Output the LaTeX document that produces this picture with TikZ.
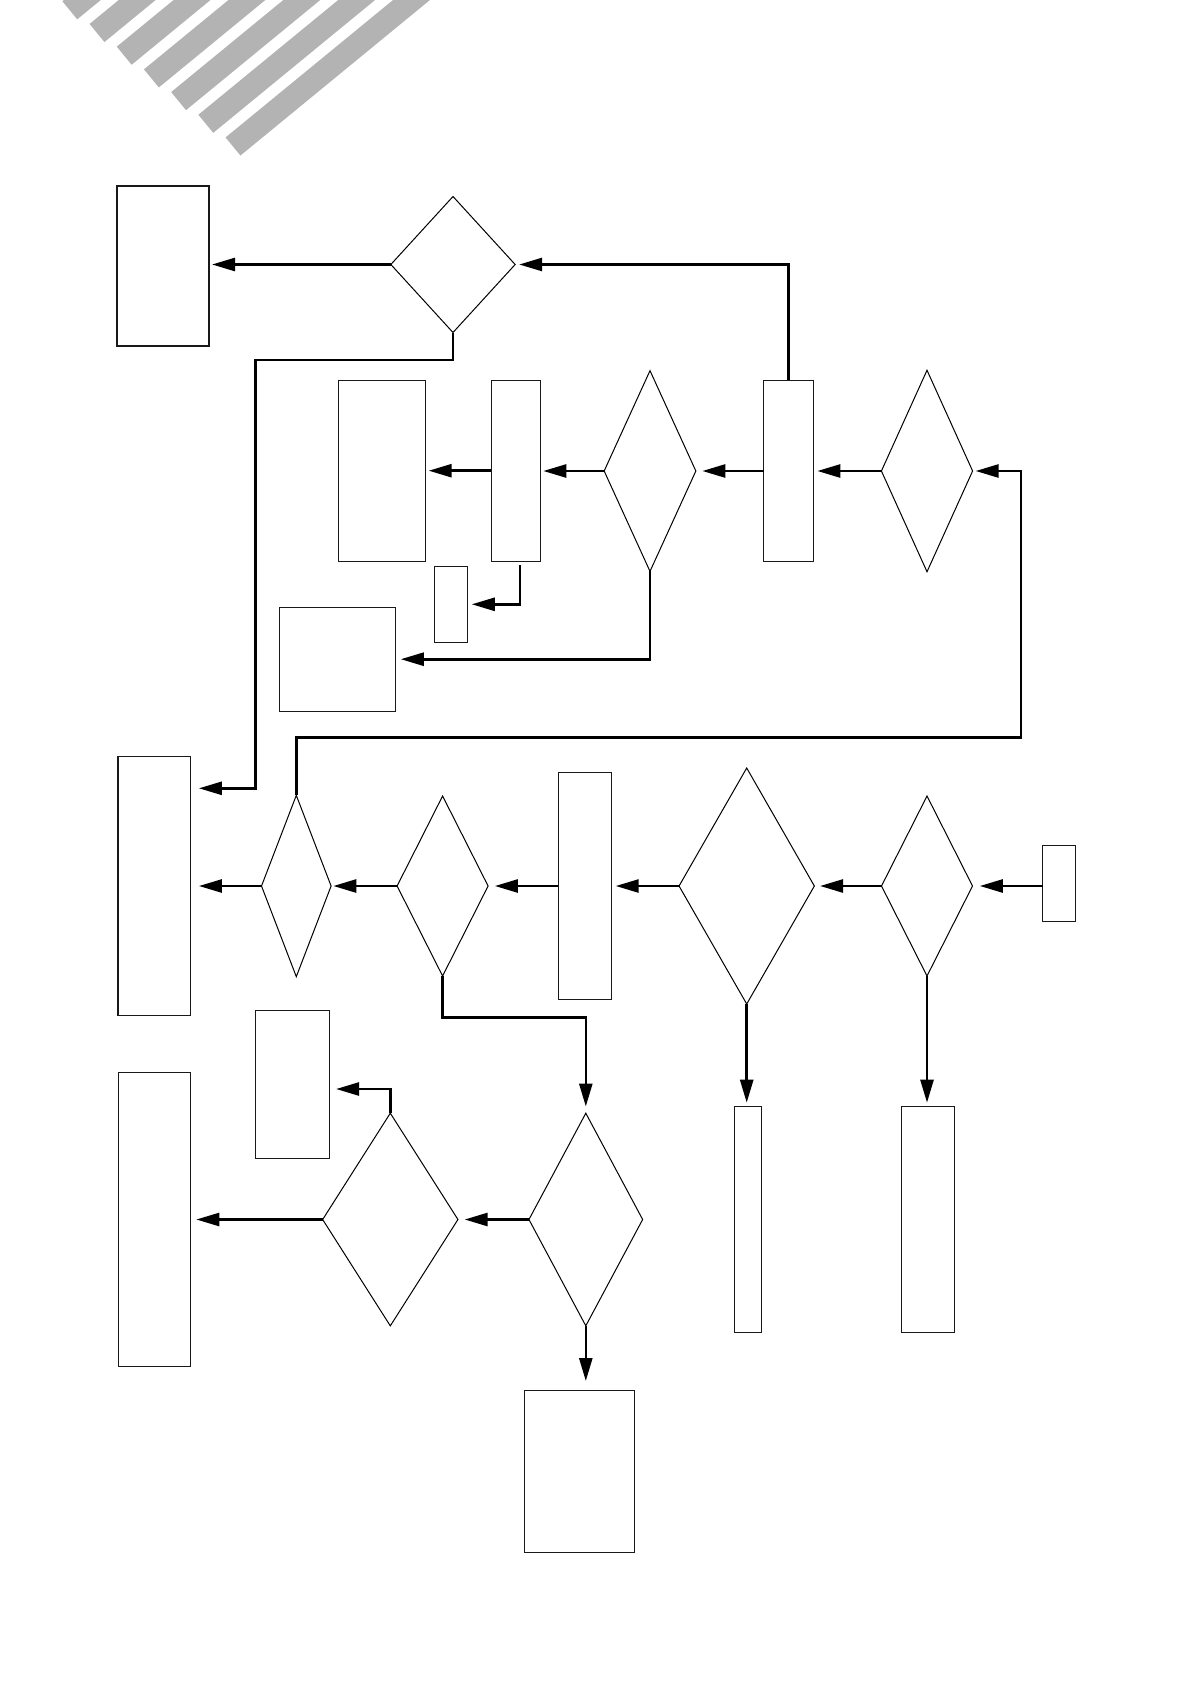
\documentclass[tikz,border=0pt]{standalone}
\usetikzlibrary{arrows.meta,shapes.geometric}
\definecolor{stripegray}{RGB}{179,179,179}
\begin{document}
\begin{tikzpicture}[x=1pt,y=-1pt,
  box/.style={draw=black!90,line width=1.1pt,rectangle,inner sep=0pt,outer sep=0pt},
  dec/.style={draw=black,line width=1pt,diamond,inner sep=0pt,outer sep=0pt},
  conn/.style={line width=2.6pt,-{Triangle[length=23pt,width=13pt]}},
]
\useasboundingbox (0,0) rectangle (1191,1685);
\begin{scope}
  \clip (0,0) rectangle (1191,1685);
  \foreach \k in {0,...,6} {
    \draw[stripegray,line width=23.4pt] ({69.8+27.2*\k},{10.3+22.7*\k}) -- ++(309,-253.6);
  }
\end{scope}
% boxes
\node[box,minimum width=92pt,minimum height=160pt] (L1) at (163,266) {};
\node[box,minimum width=87pt,minimum height=181.3pt] (C1) at (381.8,470.7) {};
\node[box,minimum width=49pt,minimum height=181.3pt] (C2) at (515.8,470.7) {};
\node[box,minimum width=49.7pt,minimum height=181.3pt] (B) at (788.5,470.7) {};
\node[box,minimum width=32.3pt,minimum height=76pt] (C3) at (450.9,604.3) {};
\node[box,minimum width=115.3pt,minimum height=103.7pt] (C4) at (337.4,659.2) {};
\node[box,minimum width=72.4pt,minimum height=259.4pt] (E1) at (154.2,886) {};
\node[box,minimum width=53.2pt,minimum height=226.7pt] (E4) at (584.8,885.7) {};
\node[box,minimum width=32.6pt,minimum height=75.6pt] (H) at (1059,883.5) {};
\node[box,minimum width=74.3pt,minimum height=147.5pt] (F1) at (292.2,1084.3) {};
\node[box,minimum width=72pt,minimum height=294.3pt] (K1) at (154.3,1219.2) {};
\node[box,minimum width=27.3pt,minimum height=226pt] (J1) at (747.7,1219.3) {};
\node[box,minimum width=52.8pt,minimum height=226pt] (J2) at (927.9,1219.3) {};
\node[box,minimum width=110.4pt,minimum height=161.6pt] (M) at (579.5,1471.5) {};
% decisions
\node[dec,minimum width=124.3pt,minimum height=136pt] (D1) at (453,264.5) {};
\node[dec,minimum width=91.7pt,minimum height=200.7pt] (D2) at (650,471) {};
\node[dec,minimum width=91.2pt,minimum height=201.5pt] (D3) at (927,471) {};
\node[dec,minimum width=69.6pt,minimum height=181.3pt] (E2) at (296.3,886) {};
\node[dec,minimum width=91pt,minimum height=180pt] (E3) at (442.6,886) {};
\node[dec,minimum width=135.3pt,minimum height=236pt] (G1) at (746.7,886) {};
\node[dec,minimum width=91pt,minimum height=180pt] (G2) at (927,886) {};
\node[dec,minimum width=135.3pt,minimum height=212.7pt] (K2) at (390.3,1219.5) {};
\node[dec,minimum width=113.7pt,minimum height=212.6pt] (K3) at (585.8,1219.5) {};
% bend points
\coordinate (b1) at (255.7,360);
\coordinate (b2) at (255.7,788.3);
\coordinate (b3) at (1021,737.5);
\coordinate (b4) at (585.8,1017.2);
\coordinate (b5) at (390.3,1089);
% connectors
\draw[conn,shorten >=3pt] (D1.west) -- (D1.west -| L1.east);
\draw[conn,shorten >=4pt] (B.north) |- (D1.east);
\draw[conn,shorten >=8.5pt] (D1.south) |- (b1) -- (b2) -- (b2 -| E1.east);
\draw[conn,shorten >=4pt] (D3.west) -- (D3.west -| B.east);
\draw[conn,shorten >=6.5pt] (B.west |- D2.east) -- (D2.east);
\draw[conn,shorten >=3pt] (D2.west) -- (D2.west -| C2.east);
\draw[conn,shorten >=3.4pt] (C2.west) -- (C2.west -| C1.east);
\draw[conn,shorten >=4.7pt] ([xshift=4pt,yshift=-4pt]C2.south) |- (C3.east);
\draw[conn,shorten >=5.7pt] (D2.south) |- (C4.east);
\draw[conn,shorten >=3pt] (E2.north) |- (b3) |- (D3.east);
\draw[conn,shorten >=8.5pt] (E2.west) -- (E2.west -| E1.east);
\draw[conn,shorten >=2.2pt] (E3.west) -- (E2.east);
\draw[conn,shorten >=6.8pt] (E4.west |- E3.east) -- (E3.east);
\draw[conn,shorten >=4.3pt] (G1.west) -- (G1.west -| E4.east);
\draw[conn,shorten >=5.7pt] (G2.west) -- (G1.east);
\draw[conn,shorten >=7.3pt] (H.west |- G2.east) -- (G2.east);
\draw[conn,shorten >=3.6pt] (G1.south) -- (G1.south |- J1.north);
\draw[conn,shorten >=3.6pt] (G2.south) -- (G2.south |- J2.north);
\draw[conn,shorten >=6.7pt] (E3.south) |- (b4) -- (K3.north);
\draw[conn,shorten >=6.7pt] (K3.west) -- (K2.east);
\draw[conn,shorten >=6pt] (K2.west) -- (K2.west -| K1.east);
\draw[conn,shorten >=6.7pt] (K2.north) -- (b5) -- (b5 -| F1.east);
\draw[conn,shorten >=9.7pt] (K3.south) -- (K3.south |- M.north);
\end{tikzpicture}
\end{document}
